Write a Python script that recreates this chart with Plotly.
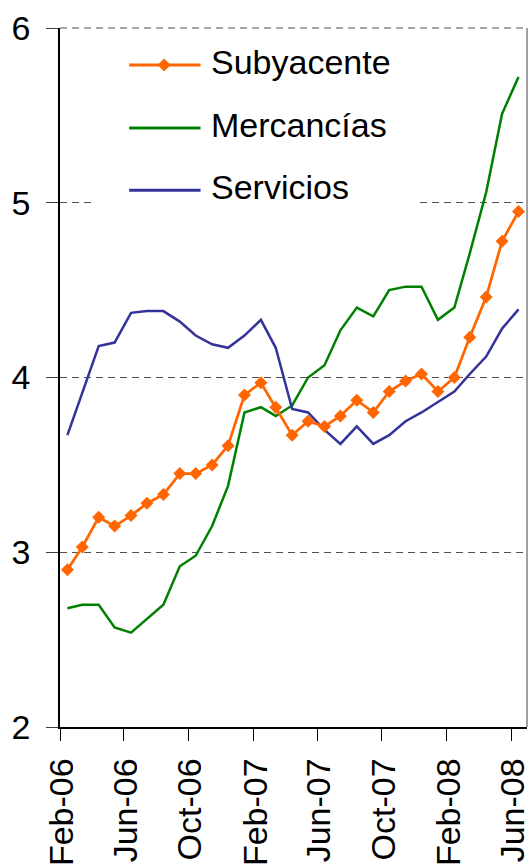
import pandas as pd
import plotly.graph_objects as go

# Monthly observations, Feb-2006 .. Jun-2008
months = pd.date_range("2006-02-01", periods=29, freq="MS")
dates = [(m + pd.Timedelta(days=14)).strftime("%Y-%m-%d") for m in months]

subyacente = [2.90, 3.03, 3.20, 3.15, 3.21, 3.28, 3.33, 3.45, 3.45, 3.50,
              3.61, 3.90, 3.97, 3.83, 3.67, 3.75, 3.72, 3.78, 3.87, 3.80,
              3.92, 3.98, 4.02, 3.92, 4.00, 4.23, 4.46, 4.78, 4.95]
mercancias = [2.68, 2.70, 2.70, 2.57, 2.54, 2.62, 2.70, 2.92, 2.98, 3.15,
              3.38, 3.80, 3.83, 3.78, 3.84, 4.00, 4.07, 4.27, 4.40, 4.35,
              4.50, 4.52, 4.52, 4.33, 4.40, 4.71, 5.06, 5.51, 5.72]
servicios = [3.67, 3.91, 4.18, 4.20, 4.37, 4.38, 4.38, 4.32, 4.24, 4.19,
             4.17, 4.24, 4.33, 4.17, 3.82, 3.80, 3.70, 3.62, 3.72, 3.62,
             3.67, 3.75, 3.80, 3.86, 3.92, 4.02, 4.12, 4.28, 4.39]

tick_dates = ["2006-02-01", "2006-06-01", "2006-10-01", "2007-02-01",
              "2007-06-01", "2007-10-01", "2008-02-01", "2008-06-01"]
tick_labels = ["Feb-06", "Jun-06", "Oct-06", "Feb-07",
               "Jun-07", "Oct-07", "Feb-08", "Jun-08"]
y_ticks = [2, 3, 4, 5, 6]

series_names = ["Subyacente", "Mercancías", "Servicios"]
colors = ["#FF6600", "#008000", "#333399"]

FONT = "Liberation Sans, Arial, sans-serif"
GRID = dict(color="#505050", width=1, dash="7px,5px")

fig = go.Figure()
fig.add_trace(go.Scatter(x=dates, y=mercancias, mode="lines", name=series_names[1],
                         line=dict(color=colors[1], width=2.5)))
fig.add_trace(go.Scatter(x=dates, y=servicios, mode="lines", name=series_names[2],
                         line=dict(color=colors[2], width=2.5)))
fig.add_trace(go.Scatter(x=dates, y=subyacente, mode="lines+markers", name=series_names[0],
                         line=dict(color=colors[0], width=2.75),
                         marker=dict(symbol="diamond", size=10, color=colors[0])))

# Dashed top edge (gridline at the axis maximum) and grey right border
fig.add_shape(type="line", xref="paper", yref="paper", x0=0, x1=1, y0=1, y1=1,
              line=GRID, layer="below")
fig.add_shape(type="line", xref="paper", yref="paper", x0=1, x1=1, y0=0, y1=1,
              line=dict(color="#808080", width=1.5), layer="above")

# Legend panel drawn in paper coordinates
fig.add_shape(type="rect", xref="paper", yref="paper", x0=0.074, x1=0.764,
              y0=0.725, y1=0.985, fillcolor="white", line=dict(width=0), layer="above")
rows_y = [0.947, 0.857, 0.768]
for name, col, yy in zip(series_names, colors, rows_y):
    fig.add_shape(type="line", xref="paper", yref="paper", x0=0.148, x1=0.301,
                  y0=yy, y1=yy, line=dict(color=col, width=3), layer="above")
    fig.add_annotation(x=0.318, y=yy, xref="paper", yref="paper", text=name,
                       showarrow=False, xanchor="left", yanchor="middle", yshift=3,
                       font=dict(family=FONT, size=34, color="black"))
fig.add_shape(type="path", xref="paper", yref="paper", xsizemode="pixel",
              ysizemode="pixel", xanchor=0.223, yanchor=rows_y[0],
              path="M-6.5,0L0,6.5L6.5,0L0,-6.5Z", fillcolor=colors[0],
              line=dict(width=0), layer="above")

fig.update_layout(
    width=531, height=868,
    margin=dict(l=60, r=4, t=28, b=141),
    paper_bgcolor="white", plot_bgcolor="white",
    showlegend=False,
    font=dict(family=FONT, size=34, color="black"),
)
fig.update_xaxes(
    type="date", range=["2006-02-01", "2008-07-01"],
    tickvals=tick_dates, ticktext=tick_labels, tickangle=-90,
    ticks="outside", ticklen=12, tickcolor="black", tickwidth=1,
    showline=True, linecolor="black", linewidth=1.5,
    showgrid=False, zeroline=False, automargin=False,
    tickfont=dict(family=FONT, size=34, color="black"),
    ticklabelstandoff=4, ticklabelshift=2, ticklabeloverflow="allow",
)
fig.update_yaxes(
    range=[2, 6], tickvals=y_ticks,
    ticks="outside", ticklen=12, tickcolor="#404040", tickwidth=1,
    showline=True, linecolor="black", linewidth=1.5,
    showgrid=True, gridcolor=GRID["color"], gridwidth=1, griddash=GRID["dash"],
    zeroline=False, automargin=False,
    tickfont=dict(family=FONT, size=34, color="black"),
    ticklabelstandoff=9,
)

fig.write_html("out.html")
